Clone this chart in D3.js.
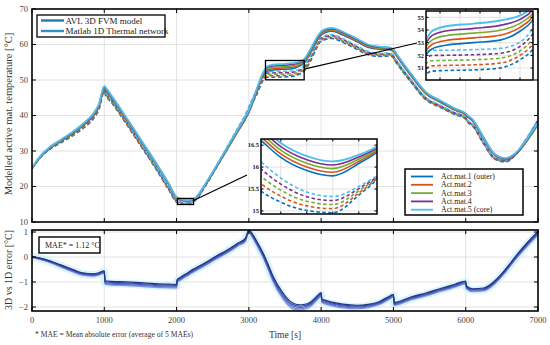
<!DOCTYPE html>
<html>
<head>
<meta charset="utf-8">
<script src="https://cdn.jsdelivr.net/npm/d3@7"></script>
<style>
  body { margin: 0; background: #fff; }
  svg { display: block; }
</style>
</head>
<body>
<div id="chart"></div>
<script>
// ---- data ----
const timeS = [0, 100, 250, 400, 550, 700, 850, 925, 1000, 1010,
  1100, 1300, 1500, 1700, 1900, 2000, 2010, 2050, 2100, 2150,
  2200, 2250, 2400, 2550, 2700, 2850, 2950, 3000, 3050, 3100,
  3200, 3260, 3330, 3470, 3600, 3700, 3760, 3850, 3950, 4000,
  4010, 4050, 4150, 4300, 4500, 4650, 4800, 4950, 5000, 5010,
  5050, 5250, 5450, 5650, 5850, 6000, 6010, 6100, 6250, 6400,
  6550, 6700, 6850, 7000];

// core (Act.mat.5) temperature, solid lines
const solidTop = [25.2, 28.2, 31.2, 33.2, 35.2, 37.6, 40.6, 43.2, 48.3, 48.1,
  45.6, 39.6, 33.4, 27.2, 20.6, 17.05, 16.95, 16.55, 16.25, 16.13,
  16.28, 16.6, 20.8, 25.8, 31.0, 36.2, 39.6, 41.6, 44.2, 47.0,
  52.2, 53.9, 54.3, 54.5, 54.75, 55.15, 55.8, 58.6, 62.3, 63.6,
  63.8, 64.3, 64.7, 63.6, 61.6, 60.0, 59.4, 59.2, 58.6, 58.4,
  57.2, 51.6, 46.6, 44.2, 42.0, 40.6, 40.4, 38.8, 33.8, 29.2,
  28.0, 29.6, 33.4, 38.0];

// core minus outer, solid lines
const solidSpread = [0.2, 0.3, 0.45, 0.5, 0.55, 0.6, 0.7, 0.8, 0.9, 0.9,
  0.75, 0.6, 0.5, 0.45, 0.38, 0.32, 0.32, 0.33, 0.33, 0.33,
  0.2, 0.1, 0.3, 0.45, 0.6, 0.7, 0.75, 0.8, 0.85, 0.9,
  0.9, 1.4, 1.5, 1.5, 1.55, 1.25, 1.1, 1.1, 1.05, 1.0,
  1.0, 1.0, 1.0, 0.95, 0.85, 0.8, 0.75, 0.7, 0.65, 0.65,
  0.65, 0.6, 0.55, 0.5, 0.5, 0.5, 0.5, 0.5, 0.45, 0.4,
  0.4, 0.45, 0.55, 0.6];

// dashed core minus solid core
const dashOffset = [0.0, -0.05, -0.2, -0.35, -0.5, -0.65, -0.7, -0.7, -0.6, -1.0,
  -1.05, -1.05, -1.1, -1.1, -1.15, -0.78, -0.8, -0.8, -0.82, -0.8,
  -0.72, -0.62, -0.3, 0.0, 0.2, 0.45, 0.65, 0.9, 0.6, 0.0,
  -0.6, -1.5, -1.9, -2.05, -2.2, -2.1, -1.8, -1.9, -1.6, -1.5,
  -1.7, -1.8, -1.9, -1.95, -2.0, -1.95, -1.85, -1.6, -1.55, -1.85,
  -1.85, -1.65, -1.5, -1.3, -1.15, -1.0, -1.2, -1.3, -1.3, -1.0,
  -0.55, 0.0, 0.5, 0.95];

// core minus outer, dashed lines
const dashSpread = [0.25, 0.35, 0.5, 0.55, 0.6, 0.7, 0.8, 0.9, 1.0, 1.0,
  0.9, 0.8, 0.75, 0.72, 0.7, 0.7, 0.68, 0.55, 0.42, 0.37,
  0.2, 0.05, 0.35, 0.5, 0.65, 0.8, 0.9, 1.0, 1.2, 1.5,
  1.7, 1.65, 1.6, 1.6, 1.55, 1.4, 1.6, 1.5, 1.3, 1.2,
  1.2, 1.15, 1.1, 1.05, 1.0, 0.95, 0.9, 0.85, 0.8, 0.8,
  0.8, 0.75, 0.7, 0.65, 0.6, 0.6, 0.6, 0.6, 0.55, 0.5,
  0.5, 0.55, 0.65, 0.7];

// 3D vs 1D error, mean of the 5 and band width
const errMean = [0.0, -0.06, -0.19, -0.36, -0.53, -0.68, -0.72, -0.68, -0.6, -1.02,
  -1.05, -1.07, -1.1, -1.14, -1.16, -1.17, -0.95, -0.88, -0.78, -0.7,
  -0.6, -0.52, -0.28, -0.02, 0.22, 0.5, 0.68, 1.02, 0.85, 0.6,
  0.05, -0.35, -0.85, -1.55, -1.95, -2.02, -2.0, -1.9, -1.62, -1.5,
  -1.75, -1.8, -1.88, -1.96, -2.0, -1.96, -1.85, -1.62, -1.55, -1.88,
  -1.86, -1.65, -1.5, -1.32, -1.15, -1.02, -1.22, -1.33, -1.3, -1.02,
  -0.55, 0.0, 0.5, 0.95];
const errSpread = [0.03, 0.05, 0.07, 0.09, 0.1, 0.1, 0.1, 0.1, 0.1, 0.14,
  0.15, 0.15, 0.15, 0.15, 0.15, 0.15, 0.12, 0.12, 0.12, 0.12,
  0.12, 0.12, 0.12, 0.12, 0.12, 0.12, 0.12, 0.12, 0.14, 0.16,
  0.18, 0.2, 0.22, 0.24, 0.24, 0.22, 0.2, 0.18, 0.16, 0.15,
  0.15, 0.15, 0.15, 0.15, 0.14, 0.13, 0.12, 0.12, 0.12, 0.12,
  0.12, 0.12, 0.12, 0.12, 0.12, 0.12, 0.12, 0.12, 0.12, 0.12,
  0.12, 0.13, 0.14, 0.15];

const materials = ["Act.mat.1 (outer)", "Act.mat.2", "Act.mat.3", "Act.mat.4", "Act.mat.5 (core)"];
const matShare = [1, 0.75, 0.5, 0.25, 0];
const errShare = [0.5, 0.25, 0, -0.25, -0.5];
const models = ["AVL 3D FVM model", "Matlab 1D Thermal network"];

const xTicks = [0, 1000, 2000, 3000, 4000, 5000, 6000, 7000];
const yTopTicks = [10, 20, 30, 40, 50, 60, 70];
const yBotTicks = [-2, -1, 0, 1];
const insetATicksX = [3300, 3400, 3500, 3600, 3700];
const insetATicksY = [51, 52, 53, 54, 55];
const insetBTicksX = [2050, 2100, 2150, 2200];
const insetBTicksY = [15, 15.5, 16, 16.5];
const maeText = "MAE* = 1.12 °C";

// ---- styles ----
const FONT = "'Liberation Serif', 'DejaVu Serif', serif";
const GRID = "#dadada";
const MAT_COLORS = ["#0072bd", "#d95319", "#77ac30", "#7e2f8e", "#4dbeee"];
const ERR_COLORS = ["#27347e", "#3a4aa8", "#4d5ec4", "#6676d4", "#8595e2"];
const MODEL_COLORS = ["#1f7bb6", "#2d93c8"];
const TL = 4;

const svg = d3.select("#chart").append("svg")
  .attr("width", 550).attr("height", 345)
  .style("font-family", FONT);

const x = d3.scaleLinear().domain([0, 7000]).range([32, 538]);
const yT = d3.scaleLinear().domain([10, 70]).range([222, 9]);
const yB = d3.scaleLinear().domain([-2.16, 1.08]).range([311, 230]);

function solidSeries(m) {
  return timeS.map((t, k) => [t, solidTop[k] - solidSpread[k] * matShare[m]]);
}
function dashSeries(m) {
  return timeS.map((t, k) => [t, solidTop[k] + dashOffset[k] - dashSpread[k] * matShare[m]]);
}
function errSeries(m) {
  return timeS.map((t, k) => [t, errMean[k] + errSpread[k] * errShare[m]]);
}
function fmtMinus(v) { return v < 0 ? "\u2212" + Math.abs(v) : String(v); }

function panelBack(xs, ys, yTicks, vTicks, clipId) {
  const [x0, x1] = xs.range();
  const [yb, yt] = ys.range();
  const g = svg.append("g");
  g.append("rect").attr("x", x0).attr("y", yt).attr("width", x1 - x0).attr("height", yb - yt).attr("fill", "#fff");
  g.selectAll(".vg").data(vTicks).join("line").attr("class", "vg")
    .attr("x1", d => xs(d)).attr("x2", d => xs(d)).attr("y1", yt).attr("y2", yb)
    .attr("stroke", GRID).attr("stroke-width", 0.8);
  g.selectAll(".hg").data(yTicks).join("line").attr("class", "hg")
    .attr("x1", x0).attr("x2", x1).attr("y1", d => ys(d)).attr("y2", d => ys(d))
    .attr("stroke", GRID).attr("stroke-width", 0.8);
  svg.append("clipPath").attr("id", clipId).append("rect")
    .attr("x", x0).attr("y", yt).attr("width", x1 - x0).attr("height", yb - yt);
  return svg.append("g").attr("clip-path", `url(#${clipId})`);
}

function panelFrame(xs, ys, yTicks, vTicks, tl, sw) {
  const [x0, x1] = xs.range();
  const [yb, yt] = ys.range();
  const g = svg.append("g").attr("stroke", "#000");
  vTicks.forEach(t => {
    g.append("line").attr("x1", xs(t)).attr("x2", xs(t)).attr("y1", yb).attr("y2", yb - tl).attr("stroke-width", 1);
    g.append("line").attr("x1", xs(t)).attr("x2", xs(t)).attr("y1", yt).attr("y2", yt + tl).attr("stroke-width", 1);
  });
  yTicks.forEach(v => {
    g.append("line").attr("x1", x0).attr("x2", x0 + tl).attr("y1", ys(v)).attr("y2", ys(v)).attr("stroke-width", 1);
    g.append("line").attr("x1", x1).attr("x2", x1 - tl).attr("y1", ys(v)).attr("y2", ys(v)).attr("stroke-width", 1);
  });
  g.append("rect").attr("x", x0).attr("y", yt).attr("width", x1 - x0).attr("height", yb - yt)
    .attr("fill", "none").attr("stroke-width", sw);
}

function drawTemps(g, xs, ys, sw, dash) {
  const line = d3.line().x(d => xs(d[0])).y(d => ys(d[1])).curve(d3.curveMonotoneX);
  for (let m = 0; m < 5; m++) {
    g.append("path").attr("d", line(dashSeries(m))).attr("fill", "none")
      .attr("stroke", MAT_COLORS[m]).attr("stroke-width", sw).attr("stroke-dasharray", dash);
  }
  for (let m = 0; m < 5; m++) {
    g.append("path").attr("d", line(solidSeries(m))).attr("fill", "none")
      .attr("stroke", MAT_COLORS[m]).attr("stroke-width", m === 4 ? sw + 0.3 : sw);
  }
}

// ---- top panel ----
const gTop = panelBack(x, yT, yTopTicks.slice(1, -1), xTicks.slice(1, -1), "clipTop");
drawTemps(gTop, x, yT, 1.5, "4,2.5");
panelFrame(x, yT, yTopTicks, xTicks, TL, 1.6);

svg.append("g").selectAll("text").data(yTopTicks).join("text")
  .attr("x", 28).attr("y", d => yT(d)).attr("dy", "0.35em").attr("text-anchor", "end")
  .attr("font-size", 8.5).attr("fill", "#444").text(d => d);

// ---- bottom panel ----
const gBot = panelBack(x, yB, yBotTicks, xTicks.slice(1, -1), "clipBot");
const eLine = d3.line().x(d => x(d[0])).y(d => yB(d[1])).curve(d3.curveMonotoneX);
gBot.append("path").attr("d", eLine(timeS.map((t, k) => [t, errMean[k]])))
  .attr("fill", "none").attr("stroke", "#cdf1f9").attr("stroke-width", 8).attr("stroke-opacity", 0.8);
for (let m = 4; m >= 0; m--) {
  gBot.append("path").attr("d", eLine(errSeries(m))).attr("fill", "none")
    .attr("stroke", ERR_COLORS[m]).attr("stroke-width", 1.2);
}
panelFrame(x, yB, yBotTicks, xTicks, TL, 1.6);

svg.append("g").selectAll("text").data(yBotTicks).join("text")
  .attr("x", 28).attr("y", d => yB(d)).attr("dy", "0.35em").attr("text-anchor", "end")
  .attr("font-size", 8.5).attr("fill", "#444").text(d => fmtMinus(d));

svg.append("g").selectAll("text").data(xTicks).join("text")
  .attr("x", d => x(d)).attr("y", 323).attr("text-anchor", "middle")
  .attr("font-size", 8.5).attr("fill", "#444").text(d => d);

// axis titles
svg.append("text").attr("transform", "translate(12,114) rotate(-90)")
  .attr("text-anchor", "middle").attr("font-size", 10.5).attr("fill", "#333")
  .text("Modelled active mat. temperature [°C]");
svg.append("text").attr("transform", "translate(12,270) rotate(-90)")
  .attr("text-anchor", "middle").attr("font-size", 10).attr("fill", "#333")
  .text("3D vs 1D error [°C]");
svg.append("text").attr("x", 285).attr("y", 338).attr("text-anchor", "middle")
  .attr("font-size", 9.5).attr("fill", "#333").text("Time [s]");
svg.append("text").attr("x", 35).attr("y", 337)
  .attr("font-size", 7.6).attr("fill", "#333").text("* MAE = Mean absolute error (average of 5 MAEs)");

// MAE box
svg.append("rect").attr("x", 39).attr("y", 237).attr("width", 61).attr("height", 16)
  .attr("fill", "#fff").attr("stroke", "#000").attr("stroke-width", 1.4);
svg.append("text").attr("x", 45).attr("y", 248).attr("font-size", 8).attr("fill", "#222").text(maeText);

// ---- insets ----
function drawInset(box, xd, yd, xtv, ytv, clipId, conn) {
  const xs = d3.scaleLinear().domain(xd).range([box.x0, box.x1]);
  const ys = d3.scaleLinear().domain(yd).range([box.y1, box.y0]);
  // zoom rectangle on the main plot and its connector
  const rx0 = x(xd[0]), rx1 = x(xd[1]), ry0 = yT(yd[1]), ry1 = yT(yd[0]);
  svg.append("rect").attr("x", rx0).attr("y", ry0).attr("width", rx1 - rx0).attr("height", ry1 - ry0)
    .attr("fill", "none").attr("stroke", "#000").attr("stroke-width", 1.3);
  svg.append("line").attr("x1", rx1).attr("y1", (ry0 + ry1) / 2 - 1)
    .attr("x2", conn[0]).attr("y2", conn[1]).attr("stroke", "#000").attr("stroke-width", 1.2);

  const g = panelBack(xs, ys, ytv, xtv, clipId);
  drawTemps(g, xs, ys, 1.6, "3.5,2.5");
  panelFrame(xs, ys, ytv, xtv, 2.5, 1.5);
  svg.append("g").selectAll("text").data(ytv).join("text")
    .attr("x", box.x0 - 2).attr("y", d => ys(d)).attr("dy", "0.35em").attr("text-anchor", "end")
    .attr("font-size", 6.5).attr("font-weight", "bold").attr("fill", "#222").text(d => d);
}

drawInset({x0: 426, x1: 533, y0: 11, y1: 80}, [3230, 3765], [50.05, 55.5],
  insetATicksX, insetATicksY, "clipA", [417, 43]);
drawInset({x0: 261, x1: 377, y0: 139, y1: 214}, [2012, 2235], [14.93, 16.64],
  insetBTicksX, insetBTicksY, "clipB", [247, 175]);

// ---- legends ----
const lg1 = svg.append("g");
lg1.append("rect").attr("x", 37).attr("y", 15).attr("width", 128).attr("height", 22).attr("fill", "#fff");
models.forEach((name, i) => {
  const yy = 20.5 + i * 10.5;
  lg1.append("line").attr("x1", 41).attr("x2", 64).attr("y1", yy).attr("y2", yy)
    .attr("stroke", MODEL_COLORS[i]).attr("stroke-width", 2.4);
  lg1.append("text").attr("x", 65.5).attr("y", yy).attr("dy", "0.35em")
    .attr("font-size", 9).attr("fill", "#222").text(name);
});
lg1.append("rect").attr("x", 37).attr("y", 15).attr("width", 128).attr("height", 22)
  .attr("fill", "none").attr("stroke", "#000").attr("stroke-width", 1.3);

const lg2 = svg.append("g");
lg2.append("rect").attr("x", 405).attr("y", 169).attr("width", 118).attr("height", 46)
  .attr("fill", "#fff").attr("stroke", "#000").attr("stroke-width", 1.5);
materials.forEach((name, i) => {
  const yy = 176.5 + i * 8.3;
  lg2.append("line").attr("x1", 411).attr("x2", 433).attr("y1", yy).attr("y2", yy)
    .attr("stroke", MAT_COLORS[i]).attr("stroke-width", 1.8);
  lg2.append("text").attr("x", 441).attr("y", yy).attr("dy", "0.33em")
    .attr("font-size", 7.8).attr("fill", "#222").text(name);
});
</script>
</body>
</html>
